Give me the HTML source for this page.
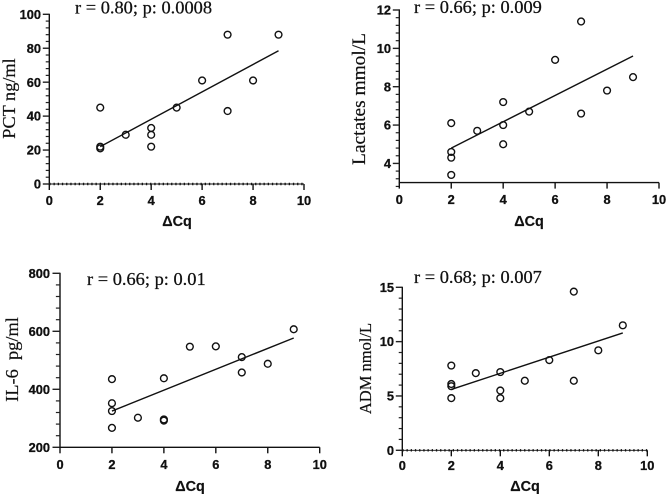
<!DOCTYPE html>
<html>
<head>
<meta charset="utf-8">
<title>Correlation scatter plots</title>
<style>
html,body{margin:0;padding:0;background:#fff;}
svg{display:block;}
.tick{font-family:"Liberation Sans",sans-serif;font-weight:bold;font-size:12.8px;fill:#111;stroke:#111;stroke-width:0.3px;}
.xt{font-family:"Liberation Sans",sans-serif;font-weight:bold;font-size:14.4px;fill:#111;text-anchor:middle;stroke:#111;stroke-width:0.2px;}
.ttl{font-family:"Liberation Serif",serif;font-size:18.4px;fill:#111;stroke:#111;stroke-width:0.25px;}
.yt{font-family:"Liberation Serif",serif;fill:#111;text-anchor:middle;stroke:#111;stroke-width:0.2px;}
</style>
</head>
<body>
<svg id="chart" xmlns="http://www.w3.org/2000/svg" width="667" height="494" viewBox="0 0 667 494">
  <rect x="0" y="0" width="667" height="494" fill="#fff"/>
  <text class="ttl" x="75" y="13.5">r = 0.80; p: 0.0008</text>
  <text class="ttl" x="414" y="13">r = 0.66; p: 0.009</text>
  <text class="ttl" x="87" y="285">r = 0.66; p: 0.01</text>
  <text class="ttl" x="414" y="283">r = 0.68; p: 0.007</text>

  <text class="yt" font-size="18.3" transform="translate(15,98.5) rotate(-90)">PCT ng/ml</text>
  <text class="yt" font-size="19.4" transform="translate(365,99) rotate(-90)">Lactates mmol/L</text>
  <text class="yt" font-size="18.4" xml:space="preserve" transform="translate(18,359.5) rotate(-90)">IL-6  pg/ml</text>
  <text class="yt" font-size="16.5" transform="translate(371,368.5) rotate(-90)">ADM nmol/L</text>

  <text class="xt" x="177" y="226">ΔCq</text>
  <text class="xt" x="529" y="226">ΔCq</text>
  <text class="xt" x="190" y="491">ΔCq</text>
  <text class="xt" x="525" y="491">ΔCq</text>
</svg>
<script>
var xTickLabels = [0, 2, 4, 6, 8, 10];

var pctX = [2, 2, 2, 3, 4, 4, 4, 5, 6, 7, 7, 8, 9];
var pctY = [45, 22, 21, 29, 33, 29, 22, 45, 61, 88, 43, 61, 88];
var pctFitX = [2, 9];
var pctFitY = [22, 78.5];
var pctTickLabels = [0, 20, 40, 60, 80, 100];

var lactatesX = [2, 2, 2, 2, 3, 4, 4, 4, 5, 6, 7, 7, 8, 9];
var lactatesY = [6.1, 4.6, 4.3, 3.4, 5.7, 7.2, 6.0, 5.0, 6.7, 9.4, 11.4, 6.6, 7.8, 8.5];
var lactatesFitX = [2, 9];
var lactatesFitY = [4.8, 9.6];
var lactatesTickLabels = [4, 6, 8, 10, 12];

var il6X = [2, 2, 2, 2, 3, 4, 4, 4, 5, 6, 7, 7, 8, 9];
var il6Y = [435, 352, 325, 267, 302, 438, 296, 292, 547, 548, 511, 458, 488, 607];
var il6FitX = [2, 9];
var il6FitY = [325, 577];
var il6TickLabels = [200, 400, 600, 800];

var admX = [2, 2, 2, 2, 3, 4, 4, 4, 5, 6, 7, 7, 8, 9];
var admY = [7.8, 6.1, 5.9, 4.8, 7.1, 7.2, 5.5, 4.8, 6.4, 8.3, 14.6, 6.4, 9.2, 11.5];
var admFitX = [2, 9];
var admFitY = [5.6, 10.8];
var admTickLabels = [0, 5, 10, 15];

var NS = 'http://www.w3.org/2000/svg';
var svg = document.getElementById('chart');

function make(parent, tag, attrs) {
  var el = document.createElementNS(NS, tag);
  for (var k in attrs) el.setAttribute(k, attrs[k]);
  parent.appendChild(el);
  return el;
}

function drawPanel(key, p) {
  var xScale = function (v) { return p.left + (v - 0) / 10 * (p.right - p.left); };
  var yScale = function (v) { return p.bottom - (v - p.yMin) / (p.yMax - p.yMin) * (p.bottom - p.top); };

  var g = make(svg, 'g', {});
  
  

  var yAxis = make(g, 'line', { x1: p.left, x2: p.left, y1: p.top - 0.6, y2: p.bottom + 0.6, stroke: '#111', 'stroke-width': 1.4 });
  
  

  var xAxis = make(g, 'line', { x1: p.left, x2: p.right, y1: p.bottom, y2: p.bottom, stroke: '#111', 'stroke-width': p.zeroLine ? 0.9 : 1.4 });
  
  

  if (p.zeroLine) {
    var zero = make(g, 'line', { x1: p.left, x2: p.right, y1: yScale(0), y2: yScale(0), stroke: '#111', 'stroke-width': 2.4, 'stroke-dasharray': '1.3 2.9' });
    
    
  }

  var labels = p.yLabels;
  var step = labels[1] - labels[0];
  var minorStep = step / 5;
  var n = Math.round((p.yMax - p.yMin) / minorStep);
  for (var i = 0; i <= n; i++) {
    var v = p.yMax - i * minorStep;
    var yy = yScale(v);
    var isMajor = labels.some(function (l) { return Math.abs(l - v) < 1e-6; });
    var tk = make(g, 'line', { x1: p.left - (isMajor ? p.major : p.major * 0.55), x2: p.left, y1: yy, y2: yy, stroke: '#222', 'stroke-width': isMajor ? 1.4 : 1.2 });
    
    
  }
  labels.forEach(function (l) {
    var t = make(g, 'text', { x: p.labelRight, y: yScale(l) + 4.6, 'text-anchor': 'end', 'class': 'tick' });
    t.textContent = String(l);
    
    
  });

  xTickLabels.forEach(function (l) {
    var xx = xScale(l);
    var tk = make(g, 'line', { x1: xx, x2: xx, y1: p.bottom, y2: p.bottom + 6, stroke: '#111', 'stroke-width': 1.4 });
    
    
    var t = make(g, 'text', { x: xx, y: p.xLabelY, 'text-anchor': 'middle', 'class': 'tick' });
    t.textContent = String(l);
    
    
  });

  var fit = make(g, 'line', {
    x1: xScale(p.fitX[0]), y1: yScale(p.fitY[0]),
    x2: xScale(p.fitX[1]), y2: yScale(p.fitY[1]),
    stroke: '#111', 'stroke-width': 1.4
  });
  
  

  p.xs.forEach(function (xv, idx) {
    var c = make(g, 'circle', { cx: xScale(xv), cy: yScale(p.ys[idx]), r: 3.4, fill: 'none', stroke: '#111', 'stroke-width': 1.4 });
    
    
  });
}

drawPanel('pct', { left: 49.3, right: 304, top: 14.3, bottom: 184, yMin: 0, yMax: 100, major: 6.5, labelRight: 41, xLabelY: 205, zeroLine: true, yLabels: pctTickLabels, xs: pctX, ys: pctY, fitX: pctFitX, fitY: pctFitY });
drawPanel('lactates', { left: 399.3, right: 659, top: 10, bottom: 182.6, yMin: 3, yMax: 12, major: 6.5, labelRight: 391, xLabelY: 204, zeroLine: false, yLabels: lactatesTickLabels, xs: lactatesX, ys: lactatesY, fitX: lactatesFitX, fitY: lactatesFitY });
drawPanel('il6', { left: 60, right: 319.7, top: 273.3, bottom: 447.3, yMin: 200, yMax: 800, major: 7.5, labelRight: 50, xLabelY: 469, zeroLine: false, yLabels: il6TickLabels, xs: il6X, ys: il6Y, fitX: il6FitX, fitY: il6FitY });
drawPanel('adm', { left: 402.3, right: 647.3, top: 287.3, bottom: 450.3, yMin: 0, yMax: 15, major: 6.5, labelRight: 394, xLabelY: 470, zeroLine: true, yLabels: admTickLabels, xs: admX, ys: admY, fitX: admFitX, fitY: admFitY });
</script>
</body>
</html>
